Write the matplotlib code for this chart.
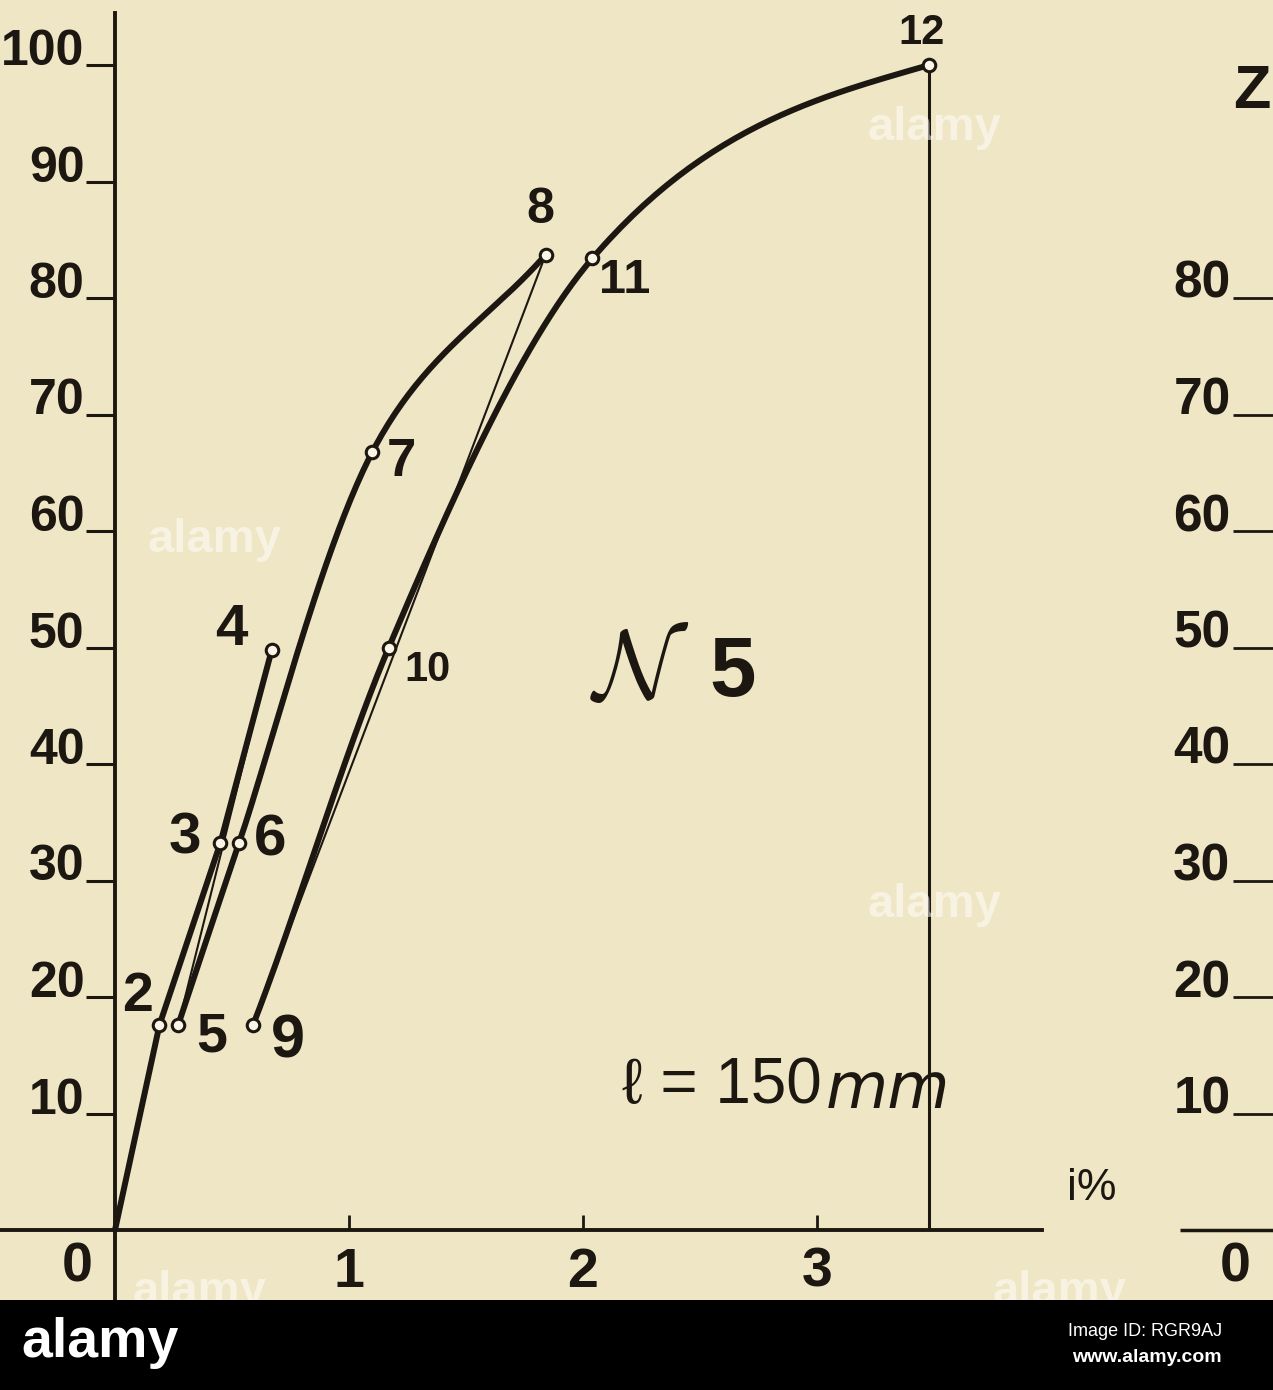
import numpy as np
import matplotlib
matplotlib.use("Agg")
import matplotlib.pyplot as plt
from matplotlib.patches import Rectangle

# ---------------- data ----------------
pt_labels = ['2', '3', '4', '5', '6', '7', '8', '9', '10', '11', '12']
pt_strain = [0.19, 0.45, 0.67, 0.27, 0.53, 1.10, 1.84, 0.59, 1.17, 2.04, 3.48]   # i %
pt_load   = [17.6, 33.2, 49.8, 17.6, 33.2, 66.8, 83.7, 17.6, 50.0, 83.4, 100.0]

origin_strain, origin_load = 0.0, 0.0

# load / unload sequences
path_first  = ['2', '3', '4']              # from origin, straight
path_unl1   = ['4', '5']                   # thin
path_load2  = ['5', '6', '7', '8']         # thick curve
path_unl2   = ['8', '9']                   # thin
path_load3  = ['9', '10', '11', '12']      # thick curve

x_ticks = [1, 2, 3]
x_ticklabels = ['1', '2', '3']
y_ticks = [10, 20, 30, 40, 50, 60, 70, 80, 90, 100]
y_ticklabels = ['10', '20', '30', '40', '50', '60', '70', '80', '90', '100']
y2_ticks = [10, 20, 30, 40, 50, 60, 70, 80]
y2_ticklabels = ['10', '20', '30', '40', '50', '60', '70', '80']

# ---------------- style ----------------
BG = '#EFE6C5'
INK = '#1d1712'
FAM = ['Liberation Sans', 'DejaVu Sans']
plt.rcParams['font.family'] = FAM
plt.rcParams['font.weight'] = 'bold'
plt.rcParams['mathtext.fontset'] = 'cm'

fig = plt.figure(figsize=(12.73, 13.90), dpi=100)
fig.patch.set_facecolor(BG)

# scan geometry: origin at (115,1230) px; 234 px per 1 %, 11.65 px per load unit
ax = fig.add_axes([0, 90 / 1390, 1, 1300 / 1390])
ax.set_facecolor(BG)
ax.set_xlim((0 - 115) / 234, (1273 - 115) / 234)
ax.set_ylim((1230 - 1300) / 11.65, 1230 / 11.65)

for s in ['top', 'right']:
    ax.spines[s].set_visible(False)
ax.spines['left'].set_position(('data', 0))
ax.spines['bottom'].set_position(('data', 0))
ax.spines['left'].set_bounds(ax.get_ylim()[0], 104.5)
ax.spines['bottom'].set_bounds(ax.get_xlim()[0], 3.96)
for s in ['left', 'bottom']:
    ax.spines[s].set_linewidth(2.8)
    ax.spines[s].set_color(INK)

ax.set_xticks(x_ticks)
ax.set_xticklabels(x_ticklabels)
ax.set_yticks(y_ticks)
ax.set_yticklabels(y_ticklabels)
ax.tick_params(axis='x', direction='in', length=11, width=2, colors=INK,
               labelsize=40, pad=12)
ax.tick_params(axis='y', direction='out', length=21, width=2.2, colors=INK,
               labelsize=36, pad=1)
plt.setp(ax.get_yticklabels(), va='baseline')


def lookup(labels):
    i = [pt_labels.index(l) for l in labels]
    return np.array([pt_strain[k] for k in i]), np.array([pt_load[k] for k in i])


def catmull(xs, ys, n=50):
    P = np.column_stack([xs, ys])
    P = np.vstack([2 * P[0] - P[1], P, 2 * P[-1] - P[-2]])
    out = []
    t = np.linspace(0, 1, n)[:, None]
    for i in range(1, len(P) - 2):
        p0, p1, p2, p3 = P[i - 1], P[i], P[i + 1], P[i + 2]
        c = 0.5 * (2 * p1 + (-p0 + p2) * t + (2 * p0 - 5 * p1 + 4 * p2 - p3) * t ** 2
                   + (-p0 + 3 * p1 - 3 * p2 + p3) * t ** 3)
        out.append(c if i == 1 else c[1:])
    c = np.vstack(out)
    return c[:, 0], c[:, 1]


def hermite(xs, ys, n=60):
    """cubic Hermite; inner slopes = mean of parabolic and harmonic estimates,
    half-secant slope at the end"""
    xs, ys = np.asarray(xs, float), np.asarray(ys, float)
    h = np.diff(xs)
    d = np.diff(ys) / h
    m = np.zeros_like(ys)
    for k in range(1, len(xs) - 1):
        par = (h[k] * d[k - 1] + h[k - 1] * d[k]) / (h[k - 1] + h[k])
        w1, w2 = 2 * h[k] + h[k - 1], h[k] + 2 * h[k - 1]
        har = (w1 + w2) / (w1 / d[k - 1] + w2 / d[k])
        m[k] = 0.5 * (par + har)
    m[0] = 0.5 * (d[0] + m[1])
    m[-1] = 0.5 * d[-1]
    X, Y = [], []
    for k in range(len(xs) - 1):
        t = np.linspace(0, 1, n)
        h00 = 2 * t ** 3 - 3 * t ** 2 + 1
        h10 = t ** 3 - 2 * t ** 2 + t
        h01 = -2 * t ** 3 + 3 * t ** 2
        h11 = t ** 3 - t ** 2
        X.append(xs[k] + t * h[k])
        Y.append(h00 * ys[k] + h10 * h[k] * m[k] + h01 * ys[k + 1] + h11 * h[k] * m[k + 1])
    return np.concatenate(X), np.concatenate(Y)


THICK, THIN = 4.3, 1.5
xs, ys = lookup(path_first)
ax.plot(np.r_[origin_strain, xs], np.r_[origin_load, ys], color=INK, lw=THICK,
        solid_capstyle='round', zorder=3)
xs, ys = lookup(path_unl1)
ax.plot(xs, ys, color=INK, lw=THIN, zorder=3)
xs, ys = lookup(path_load2)
ax.plot(*catmull(xs, ys), color=INK, lw=THICK, solid_capstyle='round', zorder=3)
xs, ys = lookup(path_unl2)
ax.plot(xs, ys, color=INK, lw=THIN, zorder=3)
xs, ys = lookup(path_load3)
ax.plot(*hermite(xs, ys), color=INK, lw=THICK, solid_capstyle='round', zorder=3)
# rupture: vertical from point 12 down to the axis
x12, y12 = lookup(['12'])
ax.vlines(x12, 0, y12, color=INK, lw=2.2, zorder=3)

ax.plot(pt_strain, pt_load, 'o', ms=9, mfc='#faf5e4', mec=INK, mew=2.2, zorder=5)

# point labels (offsets in px of the scan -> points)
lab_off = {'2': (-22, 28), '3': (-35, 5), '4': (-40, 20), '5': (34, -13),
           '6': (31, 3), '7': (29, -10), '8': (-5, 45), '9': (35, -17),
           '10': (39, -23), '11': (32, -22), '12': (-8, 32)}
lab_size = {'2': 40, '3': 42, '4': 42, '5': 40, '6': 42, '7': 38, '8': 36,
            '9': 44, '10': 30, '11': 35, '12': 30}
for l, x, y in zip(pt_labels, pt_strain, pt_load):
    dx, dy = lab_off[l]
    ax.annotate(l, (x, y), xytext=(dx / 1.389, dy / 1.389), textcoords='offset points',
                ha='center', va='center', fontsize=lab_size[l], color=INK, zorder=6)

# other texts
ax.text((77 - 115) / 234, (1230 - 1267) / 11.65, '0', ha='center', va='center',
        fontsize=40, color=INK)
ax.text((1092 - 115) / 234, (1230 - 1188) / 11.65, 'i%', ha='center', va='center',
        fontsize=32, fontweight='normal', color=INK)
ax.text((640 - 115) / 234, (1230 - 673) / 11.65, r'$\mathcal{N}$', ha='center',
        va='center', fontsize=70, color=INK)
ax.text((733 - 115) / 234, (1230 - 674) / 11.65, '5', ha='center', va='center',
        fontsize=60, color=INK)
ax.text((822 - 115) / 234, (1230 - 1086) / 11.65, 'ℓ = 150', ha='right', va='center',
        fontsize=46, fontweight='normal', color=INK)
ax.text((826 - 115) / 234, (1230 - 1090) / 11.65, 'mm', ha='left', va='center',
        fontsize=46, fontweight='normal', fontstyle='italic', color=INK,
        family=['DejaVu Sans'])
ax.text((1252 - 115) / 234, (1230 - 92) / 11.65, 'Z', ha='center', va='center',
        fontsize=44, color=INK)
ax.text((1235 - 115) / 234, (1230 - 1268) / 11.65, '0', ha='center', va='center',
        fontsize=40, color=INK)
ax.hlines(0, (1180 - 115) / 234, ax.get_xlim()[1], color=INK, lw=2.5)

# neighbouring chart's scale on the right edge
ax2 = fig.add_axes([1275 / 1273, 90 / 1390, 0.001, 1300 / 1390])
ax2.set_ylim(ax.get_ylim())
for s in ax2.spines.values():
    s.set_visible(False)
ax2.set_xticks([])
ax2.set_yticks(y2_ticks)
ax2.set_yticklabels(y2_ticklabels)
ax2.tick_params(axis='y', direction='out', length=30, width=2, colors=INK,
                labelsize=37, pad=2)
plt.setp(ax2.get_yticklabels(), va='baseline')

# faint watermark (only where it does not cover lettering)
for (px, py) in [(935, 128), (215, 540), (935, 905), (200, 1292), (1060, 1292)]:
    fig.text(px / 1273, 1 - py / 1390, 'alamy', ha='center', va='center',
             fontsize=34, color='white', alpha=0.5, zorder=10)

# bottom banner
fig.patches.append(Rectangle((0, 0), 1, 90 / 1390, transform=fig.transFigure,
                             facecolor='black', edgecolor='none', zorder=20))
fig.text(100 / 1273, 1 - 1343 / 1390, 'alamy', ha='center', va='center',
         fontsize=40, color='white', zorder=21)
fig.text(1222 / 1273, 1 - 1332 / 1390, 'Image ID: RGR9AJ', ha='right', va='center',
         fontsize=13, fontweight='normal', color='white', zorder=21)
fig.text(1222 / 1273, 1 - 1357 / 1390, 'www.alamy.com', ha='right', va='center',
         fontsize=14, fontweight='bold', color='white', zorder=21)

fig.savefig('out.png', dpi=100, facecolor=BG)
